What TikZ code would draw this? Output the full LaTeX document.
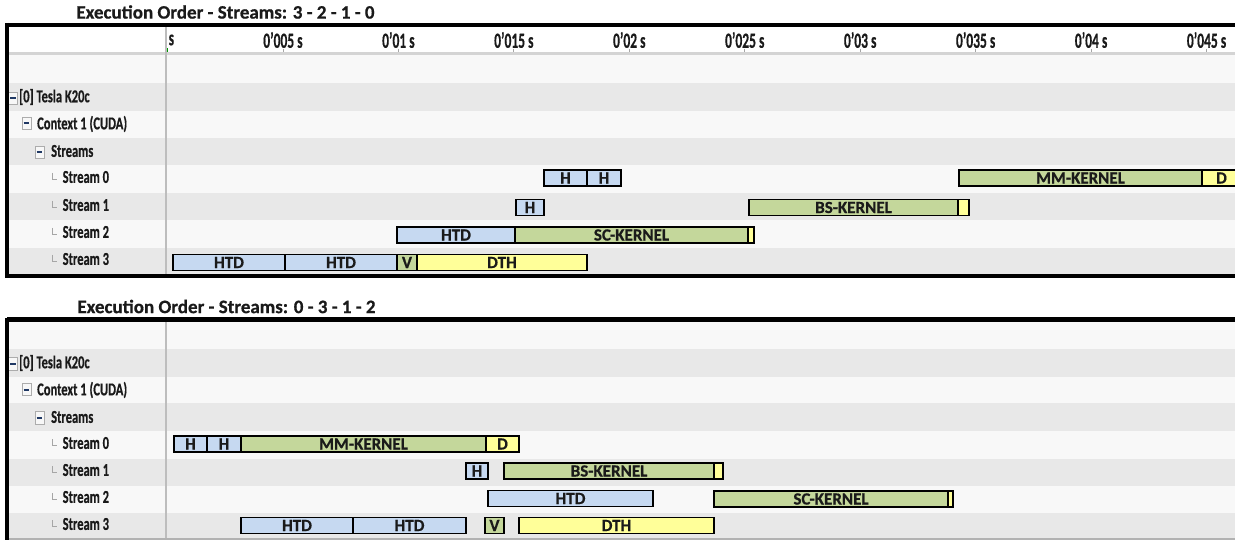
\documentclass[tikz,border=0pt]{standalone}
\usepackage{fontspec}
\setmainfont{Carlito}[BoldFeatures={FakeBold=0.6}]
\usepackage{graphicx}
\definecolor{htd}{HTML}{C6D9F1}
\definecolor{ker}{HTML}{C4D79B}
\definecolor{dth}{HTML}{FFFF99}
\definecolor{rowA}{HTML}{F8F8F8}
\definecolor{rowB}{HTML}{E8E8E8}
\definecolor{divg}{HTML}{BDBDBD}
\definecolor{hdrline}{HTML}{D4D4D4}
\definecolor{minusblue}{HTML}{1F3864}
\definecolor{ink}{HTML}{1A1A1A}
\newcommand{\tall}[1]{\scalebox{1}[1.45]{#1}}
\newcommand{\tallt}[1]{\scalebox{1}[1.6]{#1}}
\tikzset{
  seg/.style={draw=black, line width=1.2pt, inner sep=0pt, text=ink,
    font=\fontsize{17}{17}\selectfont\bfseries},
  treelbl/.style={anchor=west, inner sep=0pt, text=ink,
    font=\fontsize{12.5}{12.5}\selectfont\bfseries},
  ticklbl/.style={inner sep=0pt, text=ink,
    font=\fontsize{13.5}{13.5}\selectfont\bfseries},
  ttl/.style={inner sep=0pt, text=ink,
    font=\fontsize{19}{19}\selectfont\bfseries},
  minusbox/.style={draw=gray!65, fill=gray!6, line width=0.8pt,
    minimum width=9pt, minimum height=12.5pt, inner sep=0pt},
  minusbar/.style={draw=minusblue, line width=2pt},
  lmark/.style={draw=gray!70, line width=0.8pt},
  thickframe/.style={draw=black, line width=4.2pt},
  divider/.style={draw=divg, line width=2pt},
  tickmark/.style={draw=gray!70, line width=0.8pt},
}
% name, x1, x2, ycentre, colour, label
\newcommand{\segbox}[6]{%
  \node[seg, fill=#5, minimum width={#3-#2}, minimum height=16pt]
    (#1) at ({(#2+#3)/2},#4) {\raisebox{-1.5pt}{#6}};}
% name, x, y
\newcommand{\minusicon}[3]{%
  \node[minusbox] (#1) at (#2,#3) {};
  \draw[minusbar] ([xshift=-2.8pt]#1.center) -- ([xshift=2.8pt]#1.center);}
% x, y  (small tree corner)
\newcommand{\lcorner}[2]{\draw[lmark] (#1,#2-4) -- (#1,#2+2) -- (#1+4,#2+2);}

\begin{document}
\begin{tikzpicture}[x=1pt,y=-1pt]
\useasboundingbox (0,0) rectangle (1235,540);
\fill[white] (0,0) rectangle (1235,540);

% ================= TOP PANEL =================
\node[ttl] (title1) at (225.5,12) {Execution Order - Streams: 3 - 2 - 1 - 0};
\fill[white] (9,27) rectangle (1235,52);
\fill[hdrline] (9,52) rectangle (1235,55.5);
\foreach \ya/\yb/\cc in {55.5/83/rowA, 83/111/rowB, 111/138/rowA, 138/165/rowB,
                         165/193/rowA, 193/220/rowB, 220/248/rowA, 248/274/rowB}
  \fill[\cc] (9,\ya) rectangle (1235,\yb);

% time axis
\foreach \k/\t in {1/0'005 s, 2/0'01 s, 3/0'015 s, 4/0'02 s, 5/0'025 s,
                   6/0'03 s, 7/0'035 s, 8/0'04 s, 9/0'045 s} {
  \node[ticklbl] (tick\k) at ({167.5+115.45*\k},40) {\tallt{\t}};
  \draw[tickmark] ({167.5+115.45*\k},49) -- ({167.5+115.45*\k},52);
}
\node[ticklbl, anchor=west] (tick0) at (168.5,40) {\tallt{s}};
\draw[draw=green!60!black, line width=1pt] (167.5,48) -- (167.5,52);
\draw[divider] (165.5,27) -- (165.5,274);

% tree labels
\minusicon{mA0}{13}{98.5}
\node[treelbl] (tA0) at (19,97) {\tall{[0] Tesla K20c}};
\minusicon{mA1}{26.5}{123.5}
\node[treelbl] (tA1) at (37,124) {\tall{Context 1 (CUDA)}};
\minusicon{mA2}{39.5}{152.5}
\node[treelbl] (tA2) at (51,151) {\tall{Streams}};
\foreach \i/\yy in {0/177, 1/205, 2/232, 3/259} {
  \lcorner{52.5}{\yy}
  \node[treelbl] (sA\i) at (62.5,\yy) {\tall{Stream \i}};
}

% bars
\segbox{a0h1}{544}{587}{178}{htd}{H}
\segbox{a0h2}{587}{621}{178}{htd}{H}
\segbox{a0mm}{959}{1202}{178}{ker}{MM-KERNEL}
\segbox{a0d}{1202}{1241}{178}{dth}{D}
\segbox{a1h}{516}{544}{207.5}{htd}{H}
\segbox{a1bs}{749}{958}{207.5}{ker}{BS-KERNEL}
\segbox{a1y}{958}{969}{207.5}{dth}{}
\segbox{a2htd}{397}{515}{235}{htd}{HTD}
\segbox{a2sc}{515}{748}{235}{ker}{SC-KERNEL}
\segbox{a2y}{748}{754}{235}{dth}{}
\segbox{a3h1}{173}{285}{262.5}{htd}{HTD}
\segbox{a3h2}{285}{397}{262.5}{htd}{HTD}
\segbox{a3v}{397}{417}{262.5}{ker}{V}
\segbox{a3d}{417}{587}{262.5}{dth}{DTH}

% frame
\draw[thickframe] (7,25) -- (1240,25);
\draw[thickframe] (7,23) -- (7,278);
\draw[thickframe] (5,276) -- (1240,276);

% ================= BOTTOM PANEL =================
\node[ttl] (title2) at (226.5,306.5) {Execution Order - Streams: 0 - 3 - 1 - 2};
\foreach \ya/\yb/\cc in {322/349/rowA, 349/377/rowB, 377/403/rowA, 403/431/rowB,
                         431/459/rowA, 459/486/rowB, 486/513/rowA, 513/538/rowB}
  \fill[\cc] (9,\ya) rectangle (1235,\yb);
\draw[divider] (165.5,322) -- (165.5,538);
\draw[draw=gray!60, line width=1.5pt] (9,539) -- (1235,539);

\minusicon{mB0}{13}{364}
\node[treelbl] (tB0) at (19,363) {\tall{[0] Tesla K20c}};
\minusicon{mB1}{26.5}{389.5}
\node[treelbl] (tB1) at (37,390) {\tall{Context 1 (CUDA)}};
\minusicon{mB2}{39.5}{418}
\node[treelbl] (tB2) at (51,417) {\tall{Streams}};
\foreach \i/\yy in {0/443, 1/470, 2/497, 3/524} {
  \lcorner{52.5}{\yy}
  \node[treelbl] (sB\i) at (62.5,\yy) {\tall{Stream \i}};
}

\segbox{b0h1}{174}{207}{444}{htd}{H}
\segbox{b0h2}{207}{241}{444}{htd}{H}
\segbox{b0mm}{241}{486}{444}{ker}{MM-KERNEL}
\segbox{b0d}{486}{519}{444}{dth}{D}
\segbox{b1h}{466}{488}{471}{htd}{H}
\segbox{b1bs}{504}{714}{471}{ker}{BS-KERNEL}
\segbox{b1y}{714}{723}{471}{dth}{}
\segbox{b2htd}{488}{653}{498.5}{htd}{HTD}
\segbox{b2sc}{714}{948}{499}{ker}{SC-KERNEL}
\segbox{b2y}{948}{953}{499}{dth}{}
\segbox{b3h1}{241}{353}{525.5}{htd}{HTD}
\segbox{b3h2}{353}{466}{525.5}{htd}{HTD}
\segbox{b3v}{485}{504}{525.5}{ker}{V}
\segbox{b3d}{519}{714}{525.5}{dth}{DTH}

\draw[thickframe] (7,319.5) -- (1240,319.5);
\draw[thickframe] (7,317.5) -- (7,545);
\end{tikzpicture}
\end{document}
